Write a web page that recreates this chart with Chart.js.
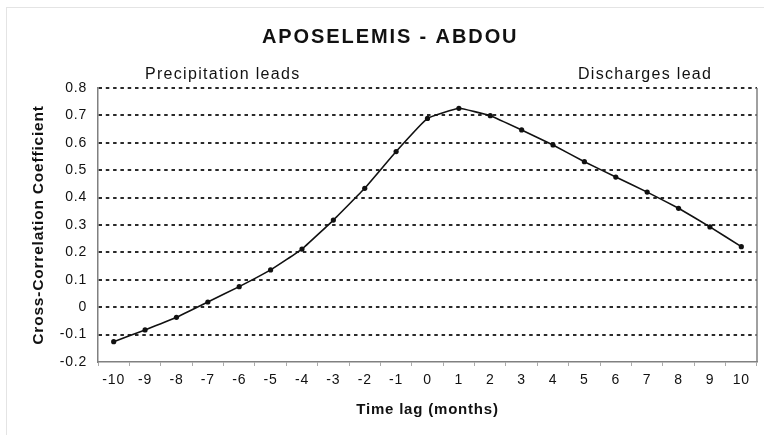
<!DOCTYPE html>
<html>
<head>
<meta charset="utf-8">
<script src="https://cdn.jsdelivr.net/npm/chart.js@4/dist/chart.umd.min.js"></script>
<style>
html,body{margin:0;padding:0;background:#fff;}
canvas{display:block;}
</style>
</head>
<body>
<canvas id="c" width="764" height="435"></canvas>
<script>
const lags = ['-10','-9','-8','-7','-6','-5','-4','-3','-2','-1','0','1','2','3','4','5','6','7','8','9','10'];
const correlation = [-0.126, -0.083, -0.037, 0.019, 0.075, 0.136, 0.212, 0.318, 0.434, 0.568, 0.689, 0.726, 0.699, 0.647, 0.592, 0.531, 0.475, 0.420, 0.361, 0.293, 0.221];
const yMin = -0.2;
const yMax = 0.8;
const yStep = 0.1;
const chartTitle = 'APOSELEMIS - ABDOU';
const leftNote = 'Precipitation leads';
const rightNote = 'Discharges lead';
const xTitle = 'Time lag (months)';
const yTitle = 'Cross-Correlation Coefficient';

const FONT = '"Liberation Sans", Arial, sans-serif';

const decor = {
  id: 'decor',
  beforeLayout(chart) { chart.ctx.letterSpacing = '0.8px'; },
  beforeDraw(chart) {
    const ctx = chart.ctx;
    ctx.letterSpacing = '0.8px';
    ctx.save();
    ctx.fillStyle = '#fff';
    ctx.fillRect(0, 0, chart.width, chart.height);
    ctx.strokeStyle = '#e4e4e4';
    ctx.lineWidth = 1;
    ctx.strokeRect(6.5, 7.5, 800, 500);
    ctx.restore();
  },
  afterDraw(chart) {
    const ctx = chart.ctx;
    const a = chart.chartArea;
    ctx.save();
    ctx.strokeStyle = '#808080';
    ctx.lineWidth = 1.5;
    ctx.beginPath();
    ctx.moveTo(a.right, a.top);
    ctx.lineTo(a.right, a.bottom);
    ctx.stroke();
    ctx.fillStyle = '#111';
    ctx.textBaseline = 'alphabetic';
    ctx.textAlign = 'left';
    ctx.letterSpacing = '1.9px';
    ctx.font = 'bold 20px ' + FONT;
    ctx.fillText(chartTitle, 262, 43);
    ctx.letterSpacing = '1.3px';
    ctx.font = '16px ' + FONT;
    ctx.fillText(leftNote, 145, 79);
    ctx.fillText(rightNote, 578, 79);
    ctx.restore();
  }
};

new Chart(document.getElementById('c'), {
  type: 'line',
  data: {
    labels: lags,
    datasets: [{
      data: correlation,
      borderColor: '#111',
      borderWidth: 1.6,
      backgroundColor: '#111',
      pointRadius: 2.6,
      pointBorderWidth: 0,
      pointBackgroundColor: '#111',
      tension: 0.08,
      fill: false
    }]
  },
  options: {
    responsive: false,
    animation: false,
    devicePixelRatio: 1,
    layout: { padding: { top: 88, right: 7, bottom: 0, left: 0 } },
    plugins: { legend: { display: false }, tooltip: { enabled: false }, title: { display: false } },
    scales: {
      x: {
        type: 'category',
        offset: true,
        afterFit(scale) { scale.height = 73; },
        grid: { display: true, drawOnChartArea: false, drawTicks: true, tickLength: 4, color: '#aaa', offset: true },
        border: { display: true, color: '#808080', width: 1.5 },
        ticks: { autoSkip: false, maxRotation: 0, padding: 6, color: '#111', font: { family: FONT, size: 14 } },
        title: { display: true, text: xTitle, color: '#111', font: { family: FONT, size: 15, weight: 'bold' }, padding: { top: 0, bottom: 16 } }
      },
      y: {
        min: yMin,
        max: yMax,
        afterFit(scale) { scale.width = 98; },
        grid: {
          display: true,
          drawTicks: false,
          lineWidth: 2,
          color(c) { return (c.tick && c.tick.value <= yMin + 1e-9) ? 'rgba(0,0,0,0)' : '#2a2a2a'; }
        },
        border: { display: true, color: '#808080', width: 1.5, dash: [3.5, 3.8] },
        ticks: {
          stepSize: yStep,
          padding: 11,
          color: '#111',
          font: { family: FONT, size: 14 },
          callback(v) { const s = Number(v).toFixed(1); return (s === '0.0' || s === '-0.0') ? '0' : s; }
        },
        title: { display: true, text: yTitle, color: '#111', font: { family: FONT, size: 15.5, weight: 'bold' }, padding: { top: 29, bottom: 0 } }
      }
    }
  },
  plugins: [decor]
});
</script>
</body>
</html>
